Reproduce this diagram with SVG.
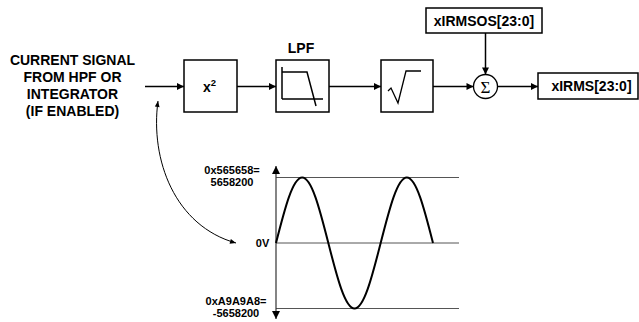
<svg xmlns="http://www.w3.org/2000/svg" width="639" height="322" viewBox="0 0 639 322">
<defs>
<marker id="ah" viewBox="0 0 10 10" refX="10" refY="5" markerWidth="8" markerHeight="7" markerUnits="userSpaceOnUse" orient="auto">
<path d="M0,0 L10,5 L0,10 Z" fill="#000"/>
</marker>
<marker id="ahs" viewBox="0 0 10 10" refX="10" refY="5" markerWidth="9" markerHeight="8" markerUnits="userSpaceOnUse" orient="auto">
<path d="M0,0 L10,5 L0,10 Z" fill="#000"/>
</marker>
<marker id="ahc" viewBox="0 0 10 10" refX="10" refY="5" markerWidth="7" markerHeight="6" markerUnits="userSpaceOnUse" orient="auto-start-reverse">
<path d="M0,1 L10,5 L0,9 Z" fill="#000"/>
</marker>
</defs>
<style>
.box{fill:#fff;stroke:#000;stroke-width:1.5}
.t{font-family:"Liberation Sans",Arial,sans-serif;font-weight:bold;fill:#000}
.big{font-size:14px}
.sm{font-size:11px}
.conn{stroke:#000;stroke-width:1.5;fill:none}
.grid{stroke:#555;stroke-width:1;fill:none}
</style>

<g id="input-label" class="t big" text-anchor="middle">
<text x="72.5" y="65">CURRENT SIGNAL</text>
<text x="72.5" y="82">FROM HPF OR</text>
<text x="72.5" y="99">INTEGRATOR</text>
<text x="72.5" y="116">(IF ENABLED)</text>
</g>

<g id="square">
<rect class="box" x="184" y="60" width="53" height="52"/>
<text class="t" x="209.5" y="91.5" font-size="14" text-anchor="middle">x<tspan font-size="9.5" dy="-6">2</tspan></text>
</g>

<g id="lpf">
<text class="t big" x="301" y="52.5" text-anchor="middle">LPF</text>
<rect class="box" x="276" y="60" width="53" height="52"/>
<path d="M282,67 L282,99 M282,72 L307,72 L316,106 M282,99 L323,99" fill="none" stroke="#000" stroke-width="1.5"/>
</g>

<g id="sqrt">
<rect class="box" x="381" y="60" width="52" height="52"/>
<path d="M388,91 L391,88 L398,103 L406,71 L421,71" fill="none" stroke="#000" stroke-width="1.3"/>
</g>

<g id="sum">
<circle cx="485.5" cy="86.5" r="12" fill="#fff" stroke="#000" stroke-width="1.3"/>
<text x="485.5" y="92.5" font-family="'Liberation Serif','Times New Roman',serif" font-size="17" text-anchor="middle">Σ</text>
</g>

<g id="offset">
<rect class="box" x="426" y="8" width="116" height="25"/>
<text class="t big" x="484" y="26" text-anchor="middle">xIRMSOS[23:0]</text>
</g>

<g id="output">
<rect class="box" x="538" y="73" width="100" height="26"/>
<text class="t big" x="591.5" y="91" text-anchor="middle">xIRMS[23:0]</text>
</g>

<g id="connectors">
<line class="conn" x1="145" y1="86.5" x2="184" y2="86.5" marker-end="url(#ah)"/>
<line class="conn" x1="237" y1="86.5" x2="276" y2="86.5" marker-end="url(#ah)"/>
<line class="conn" x1="329" y1="86.5" x2="381" y2="86.5" marker-end="url(#ah)"/>
<line class="conn" x1="433" y1="86.5" x2="473.5" y2="86.5" marker-end="url(#ah)"/>
<line class="conn" x1="497.5" y1="86.5" x2="538" y2="86.5" marker-end="url(#ah)"/>
<line class="conn" x1="485.5" y1="33" x2="485.5" y2="74.5" marker-end="url(#ah)"/>
<path d="M158,101 C150,160 175,226 236,243" fill="none" stroke="#000" stroke-width="1" marker-start="url(#ahc)" marker-end="url(#ahc)"/>
</g>

<g id="waveform">
<line class="grid" x1="276" y1="177.5" x2="459" y2="177.5"/>
<line class="grid" x1="276" y1="243" x2="459" y2="243"/>
<line class="grid" x1="276" y1="308.5" x2="459" y2="308.5"/>
<line x1="276" y1="243" x2="276" y2="166" stroke="#333" stroke-width="1.2" marker-end="url(#ahs)"/>
<line x1="276" y1="243" x2="276" y2="319" stroke="#333" stroke-width="1.2" marker-end="url(#ahs)"/>
<path d="M276,243 C284.75,208.6 292.73,177.5 302.17,177.5 S319.59,208.6 328.33,243 S345.06,308.5 354.5,308.5 S371.92,277.4 380.67,243 S397.4,177.5 406.83,177.5 S424.26,208.6 433,243" fill="none" stroke="#000" stroke-width="2"/>
<g class="t sm" text-anchor="middle">
<text x="232" y="174">0x565658=</text>
<text x="232" y="186">5658200</text>
<text x="262.5" y="247">0V</text>
<text x="236" y="305">0xA9A9A8=</text>
<text x="236" y="317">-5658200</text>
</g>
</g>
</svg>
